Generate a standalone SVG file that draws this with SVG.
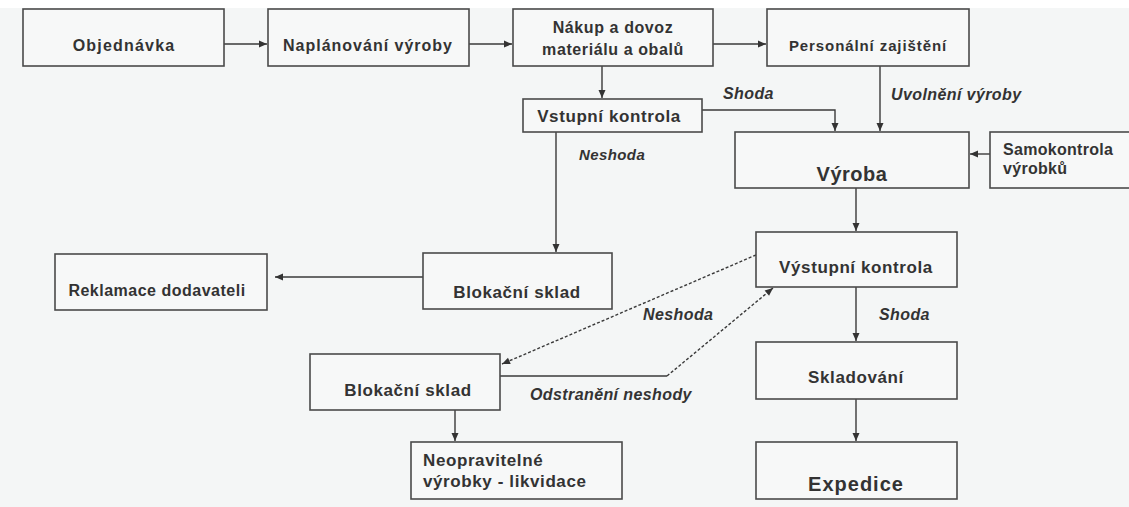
<svg xmlns="http://www.w3.org/2000/svg" width="1129" height="507" viewBox="0 0 1129 507">
<style>
  .box { fill: #f7f8f8; stroke: #4a4a4a; stroke-width: 1.6; }
  .t { font-family: "Liberation Sans", Arial, sans-serif; font-weight: bold; font-size: 16px; fill: #333; letter-spacing: 0.6px; }
  .c { text-anchor: middle; }
  .big { font-size: 20px; letter-spacing: 0.5px; }
  .lbl { font-family: "Liberation Sans", Arial, sans-serif; font-weight: bold; font-style: italic; font-size: 15px; fill: #333; letter-spacing: 0.4px; }
  .ln { fill: none; stroke: #3a3a3a; stroke-width: 1.4; }
  .dash { stroke-dasharray: 3 2; }
</style>
<defs>
  <marker id="ah" markerUnits="userSpaceOnUse" markerWidth="10" markerHeight="10" viewBox="0 0 10 10" refX="9" refY="5" orient="auto">
    <path d="M1,1.5 L9,5 L1,8.5 Z" fill="#333"/>
  </marker>
</defs>
<rect x="0" y="0" width="1129" height="507" fill="#f4f6f6"/>
<rect x="0" y="0" width="1129" height="8" fill="#ffffff"/>

<g id="connectors">
  <path class="ln" d="M224,44 L267,44" marker-end="url(#ah)"/>
  <path class="ln" d="M469,44 L512,44" marker-end="url(#ah)"/>
  <path class="ln" d="M713,44 L766,44" marker-end="url(#ah)"/>
  <path class="ln" d="M602,66 L602,98" marker-end="url(#ah)"/>
  <path class="ln" d="M702,110 L835,110 L835,131" marker-end="url(#ah)"/>
  <path class="ln" d="M880,66 L880,131" marker-end="url(#ah)"/>
  <path class="ln" d="M990,154 L970,154" marker-end="url(#ah)"/>
  <path class="ln" d="M556,132 L556,252" marker-end="url(#ah)"/>
  <path class="ln" d="M423,277 L275,277" marker-end="url(#ah)"/>
  <path class="ln" d="M856,188 L856,231" marker-end="url(#ah)"/>
  <path class="ln dash" d="M756,255 L502,364" marker-end="url(#ah)"/>
  <path class="ln" d="M500,376 L667,376"/>
  <path class="ln dash" d="M667,376 L773,288" marker-end="url(#ah)"/>
  <path class="ln" d="M856,287 L856,341" marker-end="url(#ah)"/>
  <path class="ln" d="M856,399 L856,441" marker-end="url(#ah)"/>
  <path class="ln" d="M455,410 L455,441" marker-end="url(#ah)"/>
</g>

<g id="objednavka">
  <rect class="box" x="23" y="9" width="201" height="57"/>
  <text class="t c" x="124" y="51" style="letter-spacing:1.2px">Objednávka</text>
</g>
<g id="planovani">
  <rect class="box" x="268" y="9" width="201" height="57"/>
  <text class="t c" x="368" y="51" style="letter-spacing:1px">Naplánování výroby</text>
</g>
<g id="nakup">
  <rect class="box" x="513" y="9" width="200" height="57"/>
  <text class="t c" x="613" y="33">Nákup a dovoz</text>
  <text class="t c" x="613" y="55">materiálu a obalů</text>
</g>
<g id="personalni">
  <rect class="box" x="767" y="9" width="202" height="57"/>
  <text class="t c" x="868" y="51" style="font-size:15px;letter-spacing:0.9px">Personální zajištění</text>
</g>
<g id="vstupni">
  <rect class="box" x="523" y="99" width="179" height="33"/>
  <text class="t c" x="609" y="122" style="font-size:17px">Vstupní kontrola</text>
</g>
<g id="vyroba">
  <rect class="box" x="735" y="132" width="234" height="56"/>
  <text class="t c big" x="852" y="181">Výroba</text>
</g>
<g id="samokontrola">
  <rect class="box" x="990" y="132" width="150" height="56"/>
  <text class="t" x="1003" y="155" style="letter-spacing:0.3px">Samokontrola</text>
  <text class="t" x="1003" y="174" style="letter-spacing:0.3px">výrobků</text>
</g>
<g id="reklamace">
  <rect class="box" x="55" y="254" width="212" height="56"/>
  <text class="t c" x="157" y="296" style="letter-spacing:0.5px">Reklamace dodavateli</text>
</g>
<g id="blokacni1">
  <rect class="box" x="423" y="253" width="189" height="56"/>
  <text class="t c" x="517" y="298" style="font-size:17px">Blokační sklad</text>
</g>
<g id="vystupni">
  <rect class="box" x="756" y="232" width="201" height="55"/>
  <text class="t c" x="856" y="273" style="font-size:17px">Výstupní kontrola</text>
</g>
<g id="blokacni2">
  <rect class="box" x="310" y="354" width="190" height="56"/>
  <text class="t c" x="408" y="396" style="font-size:17px">Blokační sklad</text>
</g>
<g id="neopravitelne">
  <rect class="box" x="411" y="442" width="211" height="57"/>
  <text class="t" x="423" y="466" style="font-size:17px">Neopravitelné</text>
  <text class="t" x="423" y="487" style="font-size:17px">výrobky - likvidace</text>
</g>
<g id="skladovani">
  <rect class="box" x="756" y="342" width="201" height="57"/>
  <text class="t c" x="856" y="383" style="font-size:17px">Skladování</text>
</g>
<g id="expedice">
  <rect class="box" x="756" y="442" width="201" height="57"/>
  <text class="t c big" x="856" y="491" style="letter-spacing:1px">Expedice</text>
</g>

<g id="labels">
  <text class="lbl" x="723" y="99" style="font-size:16px">Shoda</text>
  <text class="lbl" x="891" y="100" style="font-size:16px">Uvolnění výroby</text>
  <text class="lbl" x="579" y="160">Neshoda</text>
  <text class="lbl" x="643" y="320" style="font-size:16px">Neshoda</text>
  <text class="lbl" x="879" y="320" style="font-size:16px">Shoda</text>
  <text class="lbl" x="530" y="400" style="font-size:16px">Odstranění neshody</text>
</g>
</svg>
